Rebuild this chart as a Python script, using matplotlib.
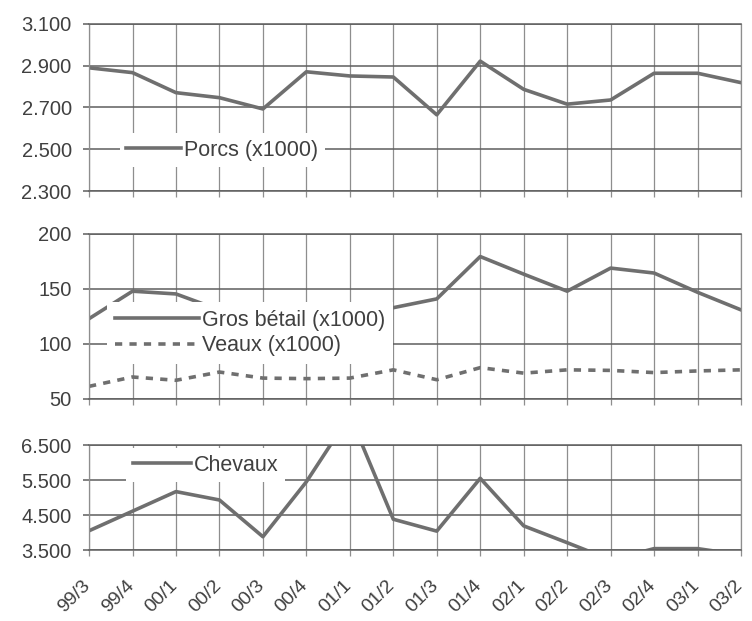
import matplotlib
matplotlib.use("Agg")
import matplotlib.pyplot as plt
from matplotlib.ticker import FuncFormatter, FixedLocator
from matplotlib.transforms import ScaledTranslation

plt.rcParams["font.family"] = ["Liberation Sans", "DejaVu Sans"]

quarters = ["99/3", "99/4", "00/1", "00/2", "00/3", "00/4", "01/1", "01/2",
            "01/3", "01/4", "02/1", "02/2", "02/3", "02/4", "03/1", "03/2"]
porcs = [2890, 2867, 2771, 2747, 2693, 2871, 2851, 2846,
         2665, 2922, 2787, 2716, 2736, 2864, 2864, 2819]
gros_betail = [123, 148, 145.5, 131, 126, 128, 131, 133,
               141, 179.5, 163.5, 148, 169, 164.5, 147, 131]
veaux = [61.5, 70, 67, 74.5, 69, 68.5, 69, 76.5,
         67.5, 78.5, 73.5, 76.5, 76, 74, 75.5, 76.5]
chevaux = [4050, 4610, 5170, 4930, 3880, 5450, 7350, 4380,
           4040, 5550, 4190, 3710, 3220, 3540, 3540, 3360]

porcs_ticks = [2300, 2500, 2700, 2900, 3100]
betail_ticks = [50, 100, 150, 200]
chevaux_ticks = [3500, 4500, 5500, 6500]

LINE = "#6f6f6f"
HGRID = "#5e5e5e"
VGRID = "#8e8e8e"
TEXT = "#404040"


def dot_thousands(v, _pos=None):
    return f"{v:,.0f}".replace(",", ".")


def style_axis(ax, yticks, fmt=None, show_x=False):
    x = list(range(len(quarters)))
    ax.set_xlim(0, len(quarters) - 1)
    ax.set_ylim(yticks[0], yticks[-1])
    ax.xaxis.set_major_locator(FixedLocator(x))
    ax.yaxis.set_major_locator(FixedLocator(yticks))
    if fmt:
        ax.yaxis.set_major_formatter(FuncFormatter(fmt))
    ax.grid(axis="y", color=HGRID, linewidth=1.1)
    ax.grid(axis="x", color=VGRID, linewidth=0.9)
    ax.set_axisbelow(True)
    for side in ("left", "right"):
        ax.spines[side].set_color(VGRID)
        ax.spines[side].set_linewidth(0.9)
    for side in ("top", "bottom"):
        ax.spines[side].set_color(HGRID)
        ax.spines[side].set_linewidth(1.1)
    ax.tick_params(axis="x", direction="out", length=4.5, width=0.9, color=VGRID)
    ax.tick_params(axis="y", direction="out", length=4.5, width=1.1, color=HGRID,
                   labelsize=14.5, labelcolor=TEXT, pad=8)
    if show_x:
        ax.set_xticklabels(quarters, rotation=45, ha="right",
                           rotation_mode="anchor", fontsize=14, color=TEXT)
        ax.tick_params(axis="x", pad=15)
        shift = ScaledTranslation(-0.07, 0, ax.figure.dpi_scale_trans)
        for lbl in ax.get_xticklabels():
            lbl.set_transform(lbl.get_transform() + shift)
    else:
        ax.tick_params(axis="x", labelbottom=False)


fig = plt.figure(figsize=(7.52, 6.21), dpi=100)
ax1 = fig.add_axes([0.1184, 0.6924, 0.867, 0.269])
ax2 = fig.add_axes([0.1184, 0.3575, 0.867, 0.2657])
ax3 = fig.add_axes([0.1184, 0.1143, 0.867, 0.169])

x = list(range(len(quarters)))

ax1.plot(x, porcs, color=LINE, linewidth=2.6, label="Porcs (x1000)")
style_axis(ax1, porcs_ticks, dot_thousands)
ax1.legend(loc="center left", bbox_to_anchor=(0.047, 0.245), borderaxespad=0,
           fontsize=15.5, frameon=True, facecolor="white", edgecolor="none",
           framealpha=1, fancybox=False, borderpad=0.3, handlelength=2.55,
           handletextpad=0.15, labelcolor=TEXT)

ax2.plot(x, gros_betail, color=LINE, linewidth=2.6, label="Gros bétail (x1000)")
ax2.plot(x, veaux, color=LINE, linewidth=2.6, linestyle=(0, (2.0, 2.0)),
         label="Veaux (x1000)")
style_axis(ax2, betail_ticks)
ax2.legend(loc="center left", bbox_to_anchor=(0.028, 0.40), borderaxespad=0,
           fontsize=15.5, frameon=True, facecolor="white", edgecolor="none",
           framealpha=1, fancybox=False, borderpad=0.35, handlelength=3.9,
           handletextpad=0.17, labelspacing=0.2, labelcolor=TEXT)

ax3.plot(x, chevaux, color=LINE, linewidth=2.6, label="Chevaux")
style_axis(ax3, chevaux_ticks, dot_thousands, show_x=True)
ax3.legend(loc="center left", bbox_to_anchor=(0.057, 0.81), borderaxespad=0,
           fontsize=15.5, frameon=True, facecolor="white", edgecolor="none",
           framealpha=1, fancybox=False, borderpad=0.3, handlelength=2.7,
           handletextpad=0.15, labelcolor=TEXT)

fig.savefig("out.png", dpi=100, facecolor="white")
